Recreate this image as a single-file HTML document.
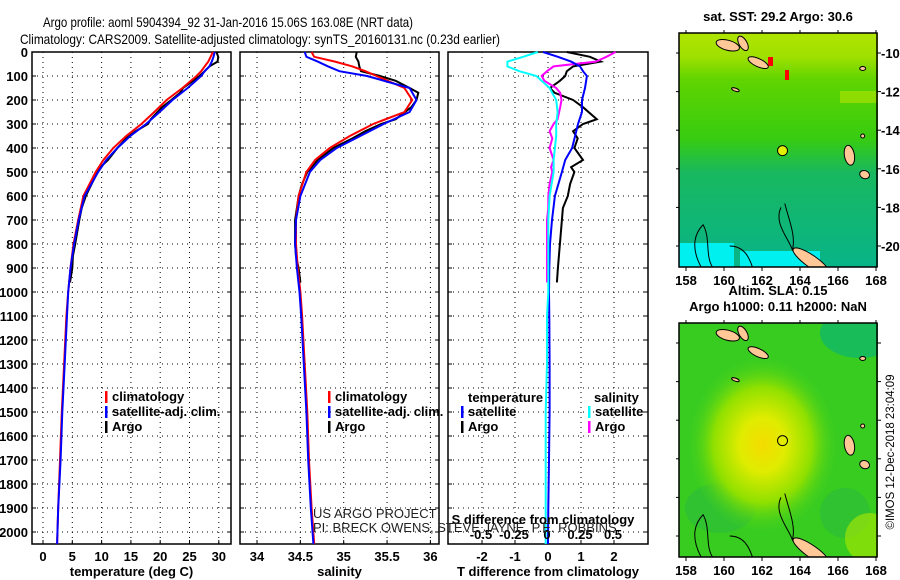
<!DOCTYPE html>
<html><head><meta charset="utf-8"><style>
body{margin:0;background:#fff}
svg{display:block;font-family:"Liberation Sans",sans-serif}
.b{font-weight:bold;font-size:13px}
</style></head><body>
<svg id="s" width="900" height="580" viewBox="0 0 900 580">
<defs>
<linearGradient id="sstg" x1="0" y1="0" x2="0" y2="1">
<stop offset="0" stop-color="#b0e400"/><stop offset="0.1" stop-color="#a0e000"/><stop offset="0.2" stop-color="#60d400"/>
<stop offset="0.45" stop-color="#38cc10"/><stop offset="0.6" stop-color="#18b860"/><stop offset="1" stop-color="#08b488"/></linearGradient>
<radialGradient id="slab" cx="0.42" cy="0.52" r="0.38"><stop offset="0" stop-color="#f4dc00"/><stop offset="0.3" stop-color="#e0ec00"/><stop offset="0.65" stop-color="#90e000"/><stop offset="1" stop-color="#40d020" stop-opacity="0"/></radialGradient>
<clipPath id="c1"><rect x="679" y="33" width="199" height="234"/></clipPath>
<clipPath id="c2"><rect x="679" y="323" width="199" height="234"/></clipPath>
</defs>
<text x="228" y="27" text-anchor="middle" font-size="14" textLength="370" lengthAdjust="spacingAndGlyphs">Argo profile: aoml 5904394_92 31-Jan-2016 15.06S 163.08E (NRT data)</text>
<text x="260" y="44" text-anchor="middle" font-size="14" textLength="480" lengthAdjust="spacingAndGlyphs">Climatology: CARS2009. Satellite-adjusted climatology: synTS_20160131.nc (0.23d earlier)</text>
<g id="plots"></g>
<g id="maps"></g>
<text transform="translate(894,452) rotate(-90)" text-anchor="middle" font-size="12" textLength="155" lengthAdjust="spacingAndGlyphs">©IMOS 12-Dec-2018 23:04:09</text>
</svg>
<script>
const NS='http://www.w3.org/2000/svg';
const depths=[0,20,40,60,80,100,150,200,250,300,350,400,450,500,600,700,800,900,1000,1100,1300,1500,1700,1900,2050];
const tClim=[29,28.6,28.2,27.6,27,26.2,23.8,21.1,19,16.8,14.2,12,10.3,9,6.9,6,5.2,4.7,4.3,4,3.6,3.2,2.9,2.6,2.4];
const tSat=[29.3,29.1,28.8,28.4,27.6,27,24.7,22.1,19.9,17.6,14.9,12.7,10.8,9.4,7.1,6.1,5.3,4.7,4.3,4.1,3.7,3.3,3,2.6,2.4];
const argoDepths=[0,20,40,60,80,100,120,150,170,200,230,280,300,330,360,400,450,480,500,550,600,650,700,800,850,900,960];
const tArgo=[29.6,29.9,29.8,28.4,27.6,26.7,25.6,23.9,23.4,21.9,20.3,18.4,17.9,15.8,14.2,12.7,11.1,9.8,9.3,8.3,7.3,6.6,6.2,5.5,5.1,5,4.6];
const sClim=[34.63,34.66,34.9,35.1,35.25,35.38,35.7,35.79,35.7,35.34,35.07,34.84,34.67,34.57,34.48,34.45,34.45,34.47,34.5,34.52,34.55,34.58,34.6,34.63,34.66];
const sSat=[34.55,34.57,34.7,34.82,34.95,35.27,35.76,35.84,35.76,35.46,35.19,34.92,34.73,34.61,34.5,34.45,34.44,34.46,34.49,34.51,34.54,34.57,34.59,34.62,34.65];
const sArgo=[35.15,35.14,35.17,35.18,35.2,35.42,35.6,35.76,35.86,35.84,35.78,35.6,35.43,35.25,35.1,34.88,34.7,34.63,34.58,34.52,34.48,34.46,34.44,34.44,34.45,34.48,34.5];
const tDiffSat=[-0.15,0.3,0.7,0.97,1.06,1.18,1.12,1.03,1.03,0.91,0.82,0.73,0.52,0.42,0.21,0.12,0.06,0.04,0.03,0.04,0.05,0.05,0.03,0.01,0];
const sDiffSat=[-0.07,-0.18,-0.3,-0.3,-0.21,-0.08,0.02,0.07,0.08,0.07,0.07,0.06,0.05,0.05,0.02,0.01,0.01,0.01,0.01,0,0,-0.01,-0.01,-0.01,-0.01];
const tDiffArgo=[0.57,1.27,1.6,0.76,0.57,0.52,0.36,0.06,0.2,0.76,1.06,1.48,1.06,0.76,0.9,0.8,1.06,0.7,0.8,0.67,0.6,0.45,0.42,0.36,0.33,0.3,0.27];
const sDiffArgo=[0.52,0.45,0.37,0.05,0,-0.04,-0.02,0.07,0.1,0.11,0.1,0.08,0.05,0.02,0.04,0.02,0.05,0.03,0.04,0.02,0.01,0.01,0,0,0,0,0];
const depthTicks=[0,100,200,300,400,500,600,700,800,900,1000,1100,1200,1300,1400,1500,1600,1700,1800,1900,2000];
const tTicks=[0,5,10,15,20,25,30];
const sTicks=[34,34.5,35,35.5,36];
const dTicks=[-2,-1,0,1,2];
const sdTicks=[-0.5,-0.25,0,0.25,0.5];
const lonTicks=[158,160,162,164,166,168];
const latTicks=[-10,-12,-14,-16,-18,-20];

const TOP=52,BOT=544;
const yD=d=>TOP+d*0.24;
function el(t,a,p){const e=document.createElementNS(NS,t);for(const k in a)e.setAttribute(k,a[k]);(p||document.getElementById('plots')).appendChild(e);return e;}
function panel(name,x0,x1,xs,ticks,title,fmt){
  const g=el('g',{});
  
  
  const fr=el('rect',{x:x0,y:TOP,width:x1-x0,height:BOT-TOP,fill:'none',stroke:'#000','stroke-width':1.5},g);
  
  
  depthTicks.forEach(d=>{const y=yD(d);
    el('line',{x1:x0,x2:x1,y1:y,y2:y,stroke:'#000','stroke-dasharray':'1,4','stroke-width':1},g);
    el('line',{x1:x0,x2:x0+4,y1:y,y2:y,stroke:'#000'},g);el('line',{x1:x1-4,x2:x1,y1:y,y2:y,stroke:'#000'},g);});
  ticks.forEach(v=>{const x=xs(v);
    el('line',{x1:x,x2:x,y1:TOP,y2:BOT,stroke:'#000','stroke-dasharray':'1,4'},g);
    el('line',{x1:x,x2:x,y1:BOT-4,y2:BOT,stroke:'#000'},g);
    const t=el('text',{x:x,y:561,'text-anchor':'middle','class':'b'},g);t.textContent=fmt?fmt(v):v;
    
    });
  const tt=el('text',{x:(x0+x1)/2,y:576,'text-anchor':'middle','class':'b'},g);tt.textContent=title;
  
  
  return g;
}
function line(name,xs,vals,ds,color,w,g){
  const p=vals.map((v,i)=>(i?'L':'M')+xs(v).toFixed(1)+' '+yD(ds[i]).toFixed(1)).join('');
  const e=el('path',{d:p,fill:'none',stroke:color,'stroke-width':w||2},g);
  
  
}
function legend(items,x,y,g){items.forEach((it,i)=>{
  el('rect',{x:x,y:y+i*15-6,width:2.5,height:12,fill:it[1]},g);
  const t=el('text',{x:x+7,y:y+i*15+4,'class':'b','font-size':12},g);t.textContent=it[0];
  
  });}
depthTicks.forEach(d=>{const t=el('text',{x:28,y:yD(d)+5,'text-anchor':'end','class':'b'});t.textContent=d;
  
  });
const xT=v=>43+v*5.86;
let g1=panel('temperature',32,231,xT,tTicks,'temperature (deg C)');
line('temp-argo',xT,tArgo,argoDepths,'#000',2,g1);
line('temp-climatology',xT,tClim,depths,'#f00',2,g1);
line('temp-satellite',xT,tSat,depths,'#00f',2,g1);
legend([['climatology','#f00'],['satellite-adj. clim.','#00f'],['Argo','#000']],105,397,g1);
const xS=v=>257+(v-34)*86.7;
let g2=panel('salinity',240,439,xS,sTicks,'salinity');
line('sal-argo',xS,sArgo,argoDepths,'#000',2,g2);
line('sal-climatology',xS,sClim,depths,'#f00',2,g2);
line('sal-satellite',xS,sSat,depths,'#00f',2,g2);
legend([['climatology','#f00'],['satellite-adj. clim.','#00f'],['Argo','#000']],328,397,g2);
const xDT=v=>548+v*33,xDS=v=>547+v*132;
let g3=panel('difference',448,648,xDT,dTicks,'T difference from climatology');
line('tdiff-argo',xDT,tDiffArgo,argoDepths,'#000',2,g3);
line('sdiff-argo',xDS,sDiffArgo,argoDepths,'#f0f',2,g3);
line('tdiff-satellite',xDT,tDiffSat,depths,'#00f',2,g3);
line('sdiff-satellite',xDS,sDiffSat,depths,'#0ff',2,g3);
sdTicks.forEach(v=>{const t=el('text',{x:xDS(v),y:539,'text-anchor':'middle','class':'b'},g3);t.textContent=v;
  
  });
let st=el('text',{x:543,y:524,'text-anchor':'middle','class':'b'},g3);st.textContent='S difference from climatology';


let tl=el('text',{x:468,y:402,'class':'b','font-size':12},g3);tl.textContent='temperature';


let sl=el('text',{x:594,y:402,'class':'b','font-size':12},g3);sl.textContent='salinity';


legend([['satellite','#00f'],['Argo','#000']],461,412,g3);
legend([['satellite','#0ff'],['Argo','#f0f']],588,412,g3);
let c1=el('text',{x:313,y:518,'font-size':13,fill:'#222'});c1.textContent='US ARGO PROJECT';


let c2=el('text',{x:313,y:532,'font-size':13,fill:'#222'});c2.textContent='PI: BRECK OWENS, STEVE JAYNE, P.E. ROBBINS';



const M=document.getElementById('maps');
const lonX=l=>686+(l-158)*19;
function map(name,y0,clip,fillFn,titles,argoFill,showLat){
  const g=el('g',{},M);
  
  
  const latY=l=>y0+20+(-10-l)*19.3;
  const inner=el('g',{'clip-path':`url(#${clip})`},g);
  fillFn(inner,y0);
  [[160.2,-9.6,12,5,15],[161.8,-10.5,11,4,25],[161,-9.5,4,8,-30],[166.6,-15.3,5,10,-10],[167.4,-16.3,5,4,20],[164.6,-20.8,22,6,35],[167.3,-14.3,2,2,0],[168.3,-15.7,3,2,0],[167.3,-10.8,3,2,0],[160.6,-11.9,4,1.5,20]].forEach(a=>{
    el('ellipse',{cx:lonX(a[0]),cy:latY(a[1]),rx:a[2],ry:a[3],fill:'#ffc896',stroke:'#000','stroke-width':1,transform:`rotate(${a[4]} ${lonX(a[0])} ${latY(a[1])})`},inner);});
  el('path',{d:`M${lonX(158.8)} ${latY(-21.1)}C${lonX(158.2)} ${latY(-20)} ${lonX(158.5)} ${latY(-19.3)} ${lonX(158.9)} ${latY(-18.9)}C${lonX(159.3)} ${latY(-19.6)} ${lonX(159)} ${latY(-20.5)} ${lonX(159.4)} ${latY(-21.1)}`,fill:'none',stroke:'#000'},inner);
  el('path',{d:`M${lonX(163)} ${latY(-18)}C${lonX(162.6)} ${latY(-18.8)} ${lonX(163.4)} ${latY(-19.6)} ${lonX(163.6)} ${latY(-20.2)}C${lonX(163.8)} ${latY(-19.5)} ${lonX(163.4)} ${latY(-18.6)} ${lonX(163.2)} ${latY(-17.8)}`,fill:'none',stroke:'#000'},inner);
  el('path',{d:`M${lonX(160.3)} ${latY(-20)}C${lonX(161)} ${latY(-20)} ${lonX(161.3)} ${latY(-20.5)} ${lonX(161.5)} ${latY(-21.1)}`,fill:'none',stroke:'#000'},inner);
  el('rect',{x:679,y:y0,width:198,height:234,fill:'none',stroke:'#000','stroke-width':1.5},g);
  el('circle',{cx:lonX(163.08),cy:latY(-15.06),r:5,fill:argoFill,stroke:'#000','stroke-width':1},g);
  lonTicks.forEach(l=>{const x=lonX(l);el('line',{x1:x,x2:x,y1:y0+234,y2:y0+238,stroke:'#000'},g);el('line',{x1:x,x2:x,y1:y0,y2:y0-3,stroke:'#000'},g);
    const t=el('text',{x:x,y:y0+252,'text-anchor':'middle','class':'b'},g);t.textContent=l;
    
    });
  latTicks.forEach(l=>{const y=latY(l);el('line',{x1:877,x2:881,y1:y,y2:y,stroke:'#000'},g);el('line',{x1:676,x2:679,y1:y,y2:y,stroke:'#000'},g);
    if(showLat){const t=el('text',{x:881,y:y+5,'class':'b','font-size':12},g);t.textContent=l;
    
    }});
  titles.forEach((s,i)=>{const t=el('text',{x:778,y:y0-12-(titles.length-1-i)*16,'text-anchor':'middle','class':'b','font-size':12},g);t.textContent=s;
    
    });
}
map('sst-map',33,'c1',(g,y0)=>{
  el('rect',{x:679,y:y0,width:199,height:234,fill:'url(#sstg)'},g);
  el('rect',{x:679,y:y0+210,width:55,height:24,fill:'#00f0f0'},g);
  el('rect',{x:740,y:y0+218,width:80,height:16,fill:'#00f0f0'},g);
  el('rect',{x:768,y:y0+24,width:5,height:9,fill:'#f00'},g);
  el('rect',{x:785,y:y0+37,width:4,height:10,fill:'#f00'},g);
  el('rect',{x:840,y:y0+58,width:38,height:12,fill:'#c8e800',opacity:0.5},g);
},['sat. SST: 29.2 Argo: 30.6'],'#e0f000',true);
map('sla-map',323,'c2',(g,y0)=>{
  el('rect',{x:679,y:y0,width:199,height:234,fill:'#38cc20'},g);
  el('ellipse',{cx:860,cy:y0+10,rx:40,ry:25,fill:'#10b868',opacity:0.8},g);
  el('ellipse',{cx:720,cy:y0+185,rx:35,ry:25,fill:'#28b840',opacity:0.5},g);
  el('ellipse',{cx:845,cy:y0+190,rx:25,ry:25,fill:'#28b840',opacity:0.5},g);
  el('rect',{x:679,y:y0,width:199,height:234,fill:'url(#slab)'},g);
  el('ellipse',{cx:870,cy:y0+215,rx:25,ry:25,fill:'#b0e800',opacity:0.6},g);
},['Altim. SLA: 0.15','Argo h1000: 0.11 h2000: NaN'],'none',false);
</script>
</body></html>
